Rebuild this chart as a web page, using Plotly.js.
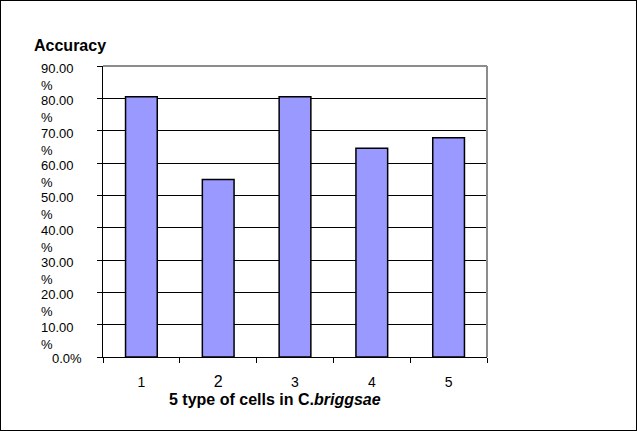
<!DOCTYPE html>
<html>
<head>
<meta charset="utf-8">
<script src="https://cdn.plot.ly/plotly-3.0.1.min.js"></script>
<style>
html,body{margin:0;padding:0;background:#fff;}
#wrap{position:relative;width:637px;height:431px;}
#chart{position:absolute;left:0;top:0;width:637px;height:431px;}
#frame{position:absolute;left:0;top:0;width:635px;height:429px;border:1px solid #000;pointer-events:none;}
</style>
</head>
<body>
<div id="wrap"><div id="chart"></div><div id="frame"></div></div>
<script>
const categories = ["1", "2", "3", "4", "5"];
const categoryLabels = ["1", "<span style=\"font-size:16px\">2</span>", "3", "4", "5"];
const accuracy = [80.5, 54.9, 80.5, 64.6, 67.8];
const yTickVals = [0, 10, 20, 30, 40, 50, 60, 70, 80, 90];
const yTickText = ["0.0%", "10.00<br>%", "20.00<br>%", "30.00<br>%", "40.00<br>%", "50.00<br>%", "60.00<br>%", "70.00<br>%", "80.00<br>%", "90.00<br>%"];
const yTitle = "Accuracy";
const xTitle = "5 type of cells in C.<i>briggsae</i>";

const FONT = "Arial, 'Liberation Sans', sans-serif";

const trace = {
  type: "bar",
  x: categories,
  y: accuracy,
  marker: {color: "#9999FF", line: {color: "#000", width: 1.5}},
  hoverinfo: "skip"
};

const annotations = yTickVals.map((v, i) => ({
  xref: "paper", yref: "y",
  x: i === 0 ? (84 - 103.3) / 383.4 : (76.5 - 103.3) / 383.4,
  y: v,
  xanchor: "right", yanchor: "top",
  yshift: i === 0 ? 8 : 7,
  align: "left",
  showarrow: false,
  text: yTickText[i],
  font: {family: FONT, size: 13, color: "#000"}
}));
annotations.push({
  xref: "paper", yref: "paper",
  x: (275 - 103.3) / 383.4, y: -0.1536,
  xanchor: "center", yanchor: "middle",
  yshift: 2,
  showarrow: false,
  text: "<b>" + xTitle + "</b>",
  font: {family: FONT, size: 16, color: "#000"}
});

const layout = {
  width: 637, height: 431,
  margin: {l: 103, r: 150, t: 66, b: 74, pad: 0},
  paper_bgcolor: "#fff",
  plot_bgcolor: "#fff",
  showlegend: false,
  bargap: 0.587,
  font: {family: FONT, size: 13, color: "#000"},
  title: {
    text: "<b>" + yTitle + "</b>",
    xref: "container", yref: "container",
    x: 34 / 637, xanchor: "left",
    y: 1 - 45.5 / 431, yanchor: "middle",
    font: {family: FONT, size: 16, color: "#000"}
  },
  xaxis: {
    type: "category",
    tickmode: "array",
    tickvals: categories,
    ticktext: categoryLabels,
    showgrid: false,
    showline: true, linecolor: "#000", linewidth: 1,
    ticks: "outside", ticklen: 5, tickcolor: "#000",
    tickson: "boundaries",
    ticklabelstandoff: 12,
    tickfont: {family: FONT, size: 14, color: "#000"},
    fixedrange: true
  },
  yaxis: {
    range: [0, 90],
    tickvals: yTickVals,
    showticklabels: false,
    showgrid: true, gridcolor: "#000", gridwidth: 1,
    showline: true, linecolor: "#000", linewidth: 1,
    ticks: "outside", ticklen: 5, tickcolor: "#000",
    zeroline: false,
    fixedrange: true
  },
  shapes: [
    {type: "line", xref: "paper", yref: "paper", x0: 0, x1: 1, y0: 1, y1: 1, line: {color: "#8c8c8c", width: 2}, layer: "above"},
    {type: "line", xref: "paper", yref: "paper", x0: 1, x1: 1, y0: 0, y1: 1, line: {color: "#8c8c8c", width: 2}, layer: "above"}
  ],
  annotations: annotations
};

Plotly.newPlot("chart", [trace], layout, {displayModeBar: false, staticPlot: true});
</script>
</body>
</html>
